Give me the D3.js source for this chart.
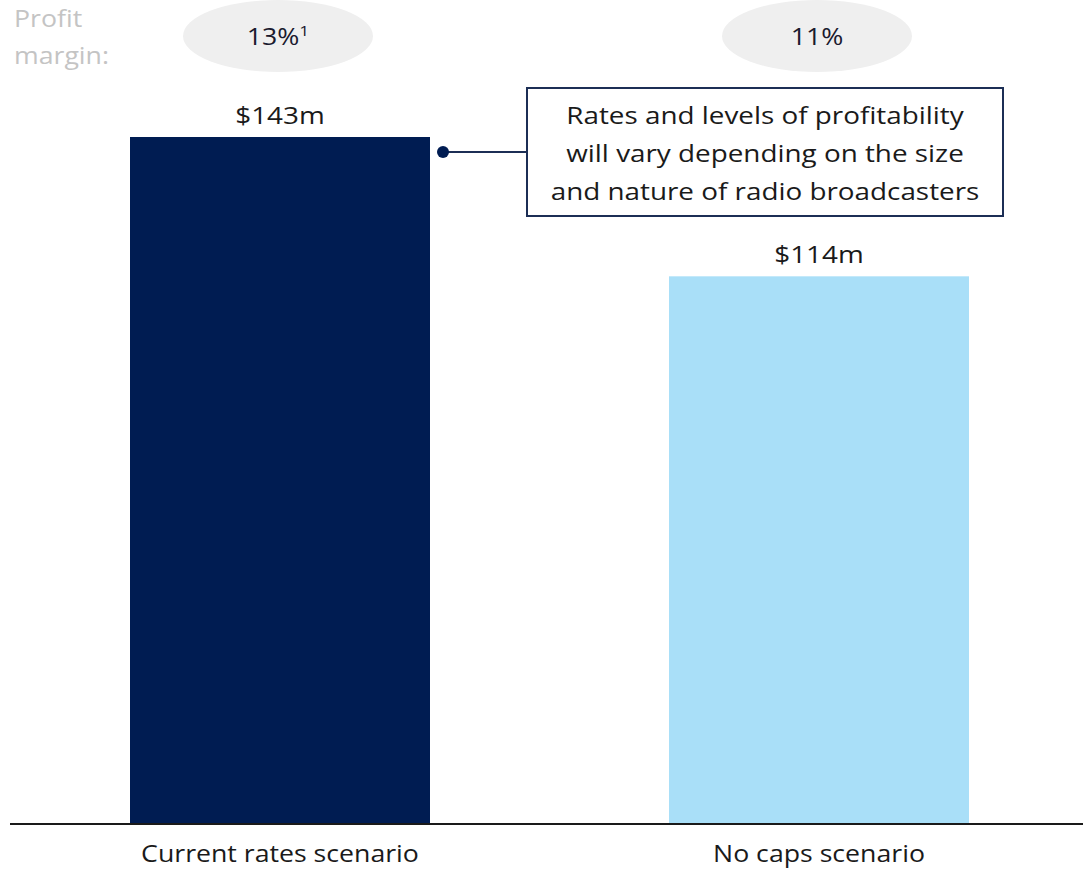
<!DOCTYPE html>
<html>
<head>
<meta charset="utf-8">
<script src="https://cdn.jsdelivr.net/npm/d3@7"></script>
<style>
  body { margin: 0; background: #fff; }
  svg { display: block; font-family: "Open Sans", sans-serif; }
</style>
</head>
<body>
<svg id="chart" width="1083" height="871"></svg>
<script>
const categories = ['Current rates scenario', 'No caps scenario'];
const profits = [143, 114];
const valueLabels = ['$143m', '$114m'];
const margins = ['13%', '11%'];
const marginNotes = ['1', ''];
const noteLines = [
  'Rates and levels of profitability',
  'will vary depending on the size',
  'and nature of radio broadcasters'
];

const svg = d3.select('#chart'),
  colors = ['#001c52', '#a9dff8'],
  baseY = 824,
  sx = 1.16, // the source font runs wide
  place = (px, py) => `translate(${px},${py}) scale(${sx},1)`;

// two bars, 300px wide, left edges at 130 and 669
const x = d3.scaleBand().domain(categories).range([130, 969]).paddingInner(239 / 539).paddingOuter(0);
const y = d3.scaleLinear().domain([0, 143]).range([baseY, 137]);
const cx = d => x(d) + x.bandwidth() / 2;

// bars
svg.selectAll('rect.bar')
  .data(categories)
  .join('rect')
  .attr('class', 'bar')
  .attr('x', d => x(d))
  .attr('width', x.bandwidth())
  .attr('y', (d, i) => y(profits[i]))
  .attr('height', (d, i) => baseY - y(profits[i]))
  .attr('fill', (d, i) => colors[i]);

// value labels
svg.selectAll('text.val')
  .data(categories)
  .join('text')
  .attr('class', 'val')
  .attr('transform', (d, i) => place(cx(d), y(profits[i]) - 13))
  .attr('text-anchor', 'middle')
  .style('font-size', '24px')
  .style('fill', '#1a1a1a')
  .text((d, i) => valueLabels[i]);

// baseline
svg.append('line')
  .attr('x1', 10).attr('x2', 1083)
  .attr('y1', baseY).attr('y2', baseY)
  .attr('stroke', '#1a1a1a').attr('stroke-width', 2);

// category labels
svg.selectAll('text.cat')
  .data(categories)
  .join('text')
  .attr('class', 'cat')
  .attr('transform', d => place(cx(d), 862))
  .attr('text-anchor', 'middle')
  .style('font-size', '23px')
  .style('fill', '#1a1a1a')
  .text(d => d);

// profit margin header
svg.append('text')
  .attr('transform', place(14, 27))
  .style('font-size', '23px').style('fill', '#c4c4c4')
  .text('Profit');
svg.append('text')
  .attr('transform', place(14, 64))
  .style('font-size', '23px').style('fill', '#c4c4c4')
  .text('margin:');

const pills = svg.selectAll('g.pill')
  .data(categories)
  .join('g')
  .attr('class', 'pill')
  .attr('transform', d => `translate(${cx(d) - 2},36)`);

pills.append('ellipse')
  .attr('rx', 95).attr('ry', 36)
  .attr('fill', '#efefef');

const pt = pills.append('text')
  .attr('transform', place(0, 9))
  .attr('text-anchor', 'middle')
  .style('font-size', '23px')
  .style('fill', '#1a1a2e');
pt.append('tspan').text((d, i) => margins[i]);
pt.append('tspan')
  .attr('dy', -9)
  .style('font-size', '15px')
  .text((d, i) => marginNotes[i]);

// annotation callout
const box = { x: 527, y: 88, w: 476, h: 128 };
const connY = box.y + 64;
svg.append('line')
  .attr('x1', 443).attr('x2', box.x)
  .attr('y1', connY).attr('y2', connY)
  .attr('stroke', '#1c2e55').attr('stroke-width', 2);
svg.append('circle')
  .attr('cx', 443).attr('cy', connY).attr('r', 6)
  .attr('fill', '#001c52');
svg.append('rect')
  .attr('x', box.x).attr('y', box.y)
  .attr('width', box.w).attr('height', box.h)
  .attr('fill', '#fff')
  .attr('stroke', '#1c2e55').attr('stroke-width', 2);
svg.selectAll('text.note')
  .data(noteLines)
  .join('text')
  .attr('class', 'note')
  .attr('transform', (d, i) => place(box.x + box.w / 2, box.y + 36 + i * 38))
  .attr('text-anchor', 'middle')
  .style('font-size', '24px')
  .style('fill', '#1a1a1a')
  .text(d => d);
</script>
</body>
</html>
